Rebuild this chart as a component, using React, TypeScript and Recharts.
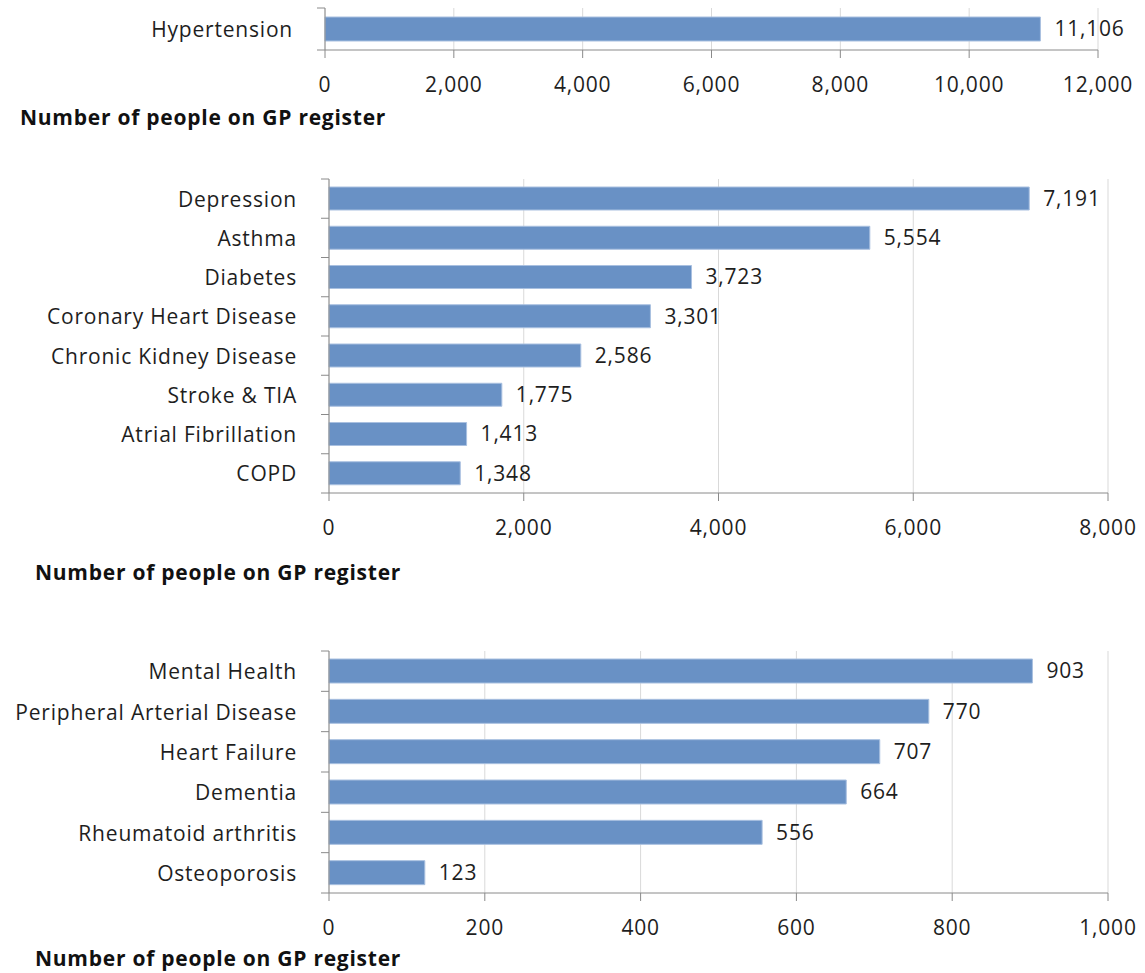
import React from "react";
import {
  BarChart,
  Bar,
  XAxis,
  YAxis,
  CartesianGrid,
  LabelList,
} from "recharts";

// Register counts, grouped into three panels by size
const topConditions = ["Hypertension"];
const topCounts = [11106];
const topTicks = [0, 2000, 4000, 6000, 8000, 10000, 12000];

const midConditions = [
  "Depression",
  "Asthma",
  "Diabetes",
  "Coronary Heart Disease",
  "Chronic Kidney Disease",
  "Stroke & TIA",
  "Atrial Fibrillation",
  "COPD",
];
const midCounts = [7191, 5554, 3723, 3301, 2586, 1775, 1413, 1348];
const midTicks = [0, 2000, 4000, 6000, 8000];

const lowConditions = [
  "Mental Health",
  "Peripheral Arterial Disease",
  "Heart Failure",
  "Dementia",
  "Rheumatoid arthritis",
  "Osteoporosis",
];
const lowCounts = [903, 770, 707, 664, 556, 123];
const lowTicks = [0, 200, 400, 600, 800, 1000];

const axisTitle = "Number of people on GP register";

const FONT = "'Open Sans', 'Liberation Sans', Arial, sans-serif";
const FONT_SIZE = 21;
const SPACING = 0.8;
const TEXT = "#1e1e1e";
const AXIS = "#8a8a8a";
const GRID = "#d9d9d9";
const BAR = "#6991c5";
const BAR_EDGE = "#a9c0e0";
const CHART_W = 1145;

const fmt = (v: number) => v.toLocaleString("en-US");

type PanelProps = {
  names: string[];
  values: number[];
  ticks: number[];
  top: number;
  plotTop: number;
  plotHeight: number;
  plotLeft: number;
  plotRight: number;
  barSize: number;
};

function Panel({
  names,
  values,
  ticks,
  top,
  plotTop,
  plotHeight,
  plotLeft,
  plotRight,
  barSize,
}: PanelProps) {
  const rows = names.map((name, i) => ({ name, value: values[i] }));
  const band = plotHeight / names.length;
  const xAxisHeight = 60;
  const height = plotTop + plotHeight + xAxisHeight;

  const renderYTick = (props: any) => {
    const { y, payload, index } = props;
    const last = index === names.length - 1;
    return (
      <g>
        <text
          x={plotLeft - 32}
          y={y}
          textAnchor="end"
          dominantBaseline="central"
          fill={TEXT}
          fontFamily={FONT}
          fontSize={FONT_SIZE}
          letterSpacing={SPACING}
        >
          {payload.value}
        </text>
        <line
          x1={plotLeft - 8}
          x2={plotLeft}
          y1={y - band / 2}
          y2={y - band / 2}
          stroke={AXIS}
        />
        {last && (
          <line
            x1={plotLeft - 8}
            x2={plotLeft}
            y1={y + band / 2}
            y2={y + band / 2}
            stroke={AXIS}
          />
        )}
      </g>
    );
  };

  const renderXTick = (props: any) => {
    const { x, y, payload } = props;
    return (
      <text
        x={x}
        y={y + 15}
        textAnchor="middle"
        fill={TEXT}
        fontFamily={FONT}
        fontSize={FONT_SIZE}
        letterSpacing={SPACING}
      >
        {fmt(payload.value)}
      </text>
    );
  };

  return (
    <div style={{ position: "absolute", left: 0, top }}>
      <BarChart
        width={CHART_W}
        height={height}
        data={rows}
        layout="vertical"
        barCategoryGap={0}
        margin={{ top: plotTop, right: CHART_W - plotRight, bottom: 0, left: 0 }}
      >
        <CartesianGrid horizontal={false} stroke={GRID} strokeWidth={1} />
        <XAxis
          type="number"
          domain={[ticks[0], ticks[ticks.length - 1]]}
          ticks={ticks}
          interval={0}
          height={xAxisHeight}
          tickSize={8}
          tickMargin={19}
          axisLine={{ stroke: AXIS }}
          tickLine={{ stroke: AXIS }}
          tick={renderXTick}
        />
        <YAxis
          type="category"
          dataKey="name"
          width={plotLeft}
          interval={0}
          axisLine={{ stroke: AXIS }}
          tickLine={false}
          tick={renderYTick}
        />
        <Bar
          dataKey="value"
          fill={BAR}
          stroke={BAR_EDGE}
          strokeWidth={1}
          barSize={barSize}
          isAnimationActive={false}
        >
          <LabelList
            dataKey="value"
            position="right"
            offset={14}
            formatter={(v: any) => fmt(Number(v))}
            fill={TEXT}
            fontFamily={FONT}
            fontSize={FONT_SIZE}
            letterSpacing={SPACING}
          />
        </Bar>
      </BarChart>
    </div>
  );
}

function Title({ x, y }: { x: number; y: number }) {
  return (
    <text
      x={x}
      y={y}
      fill="#111"
      fontFamily={FONT}
      fontSize={FONT_SIZE}
      fontWeight="bold"
      letterSpacing={0.75}
    >
      {axisTitle}
    </text>
  );
}

export default function App() {
  return (
    <div
      style={{
        position: "absolute",
        left: 0,
        top: 0,
        width: CHART_W,
        height: 973,
        background: "#fff",
        overflow: "hidden",
      }}
    >
      <Panel
        names={topConditions}
        values={topCounts}
        ticks={topTicks}
        top={0}
        plotTop={8}
        plotHeight={42}
        plotLeft={325}
        plotRight={1098}
        barSize={24}
      />
      <Panel
        names={midConditions}
        values={midCounts}
        ticks={midTicks}
        top={170}
        plotTop={9}
        plotHeight={314}
        plotLeft={329}
        plotRight={1108}
        barSize={23}
      />
      <Panel
        names={lowConditions}
        values={lowCounts}
        ticks={lowTicks}
        top={640}
        plotTop={11}
        plotHeight={242}
        plotLeft={329}
        plotRight={1108}
        barSize={24}
      />
      <svg
        width={CHART_W}
        height={973}
        style={{ position: "absolute", left: 0, top: 0, pointerEvents: "none" }}
      >
        <Title x={20} y={125} />
        <Title x={35} y={580} />
        <Title x={35} y={966} />
      </svg>
    </div>
  );
}
